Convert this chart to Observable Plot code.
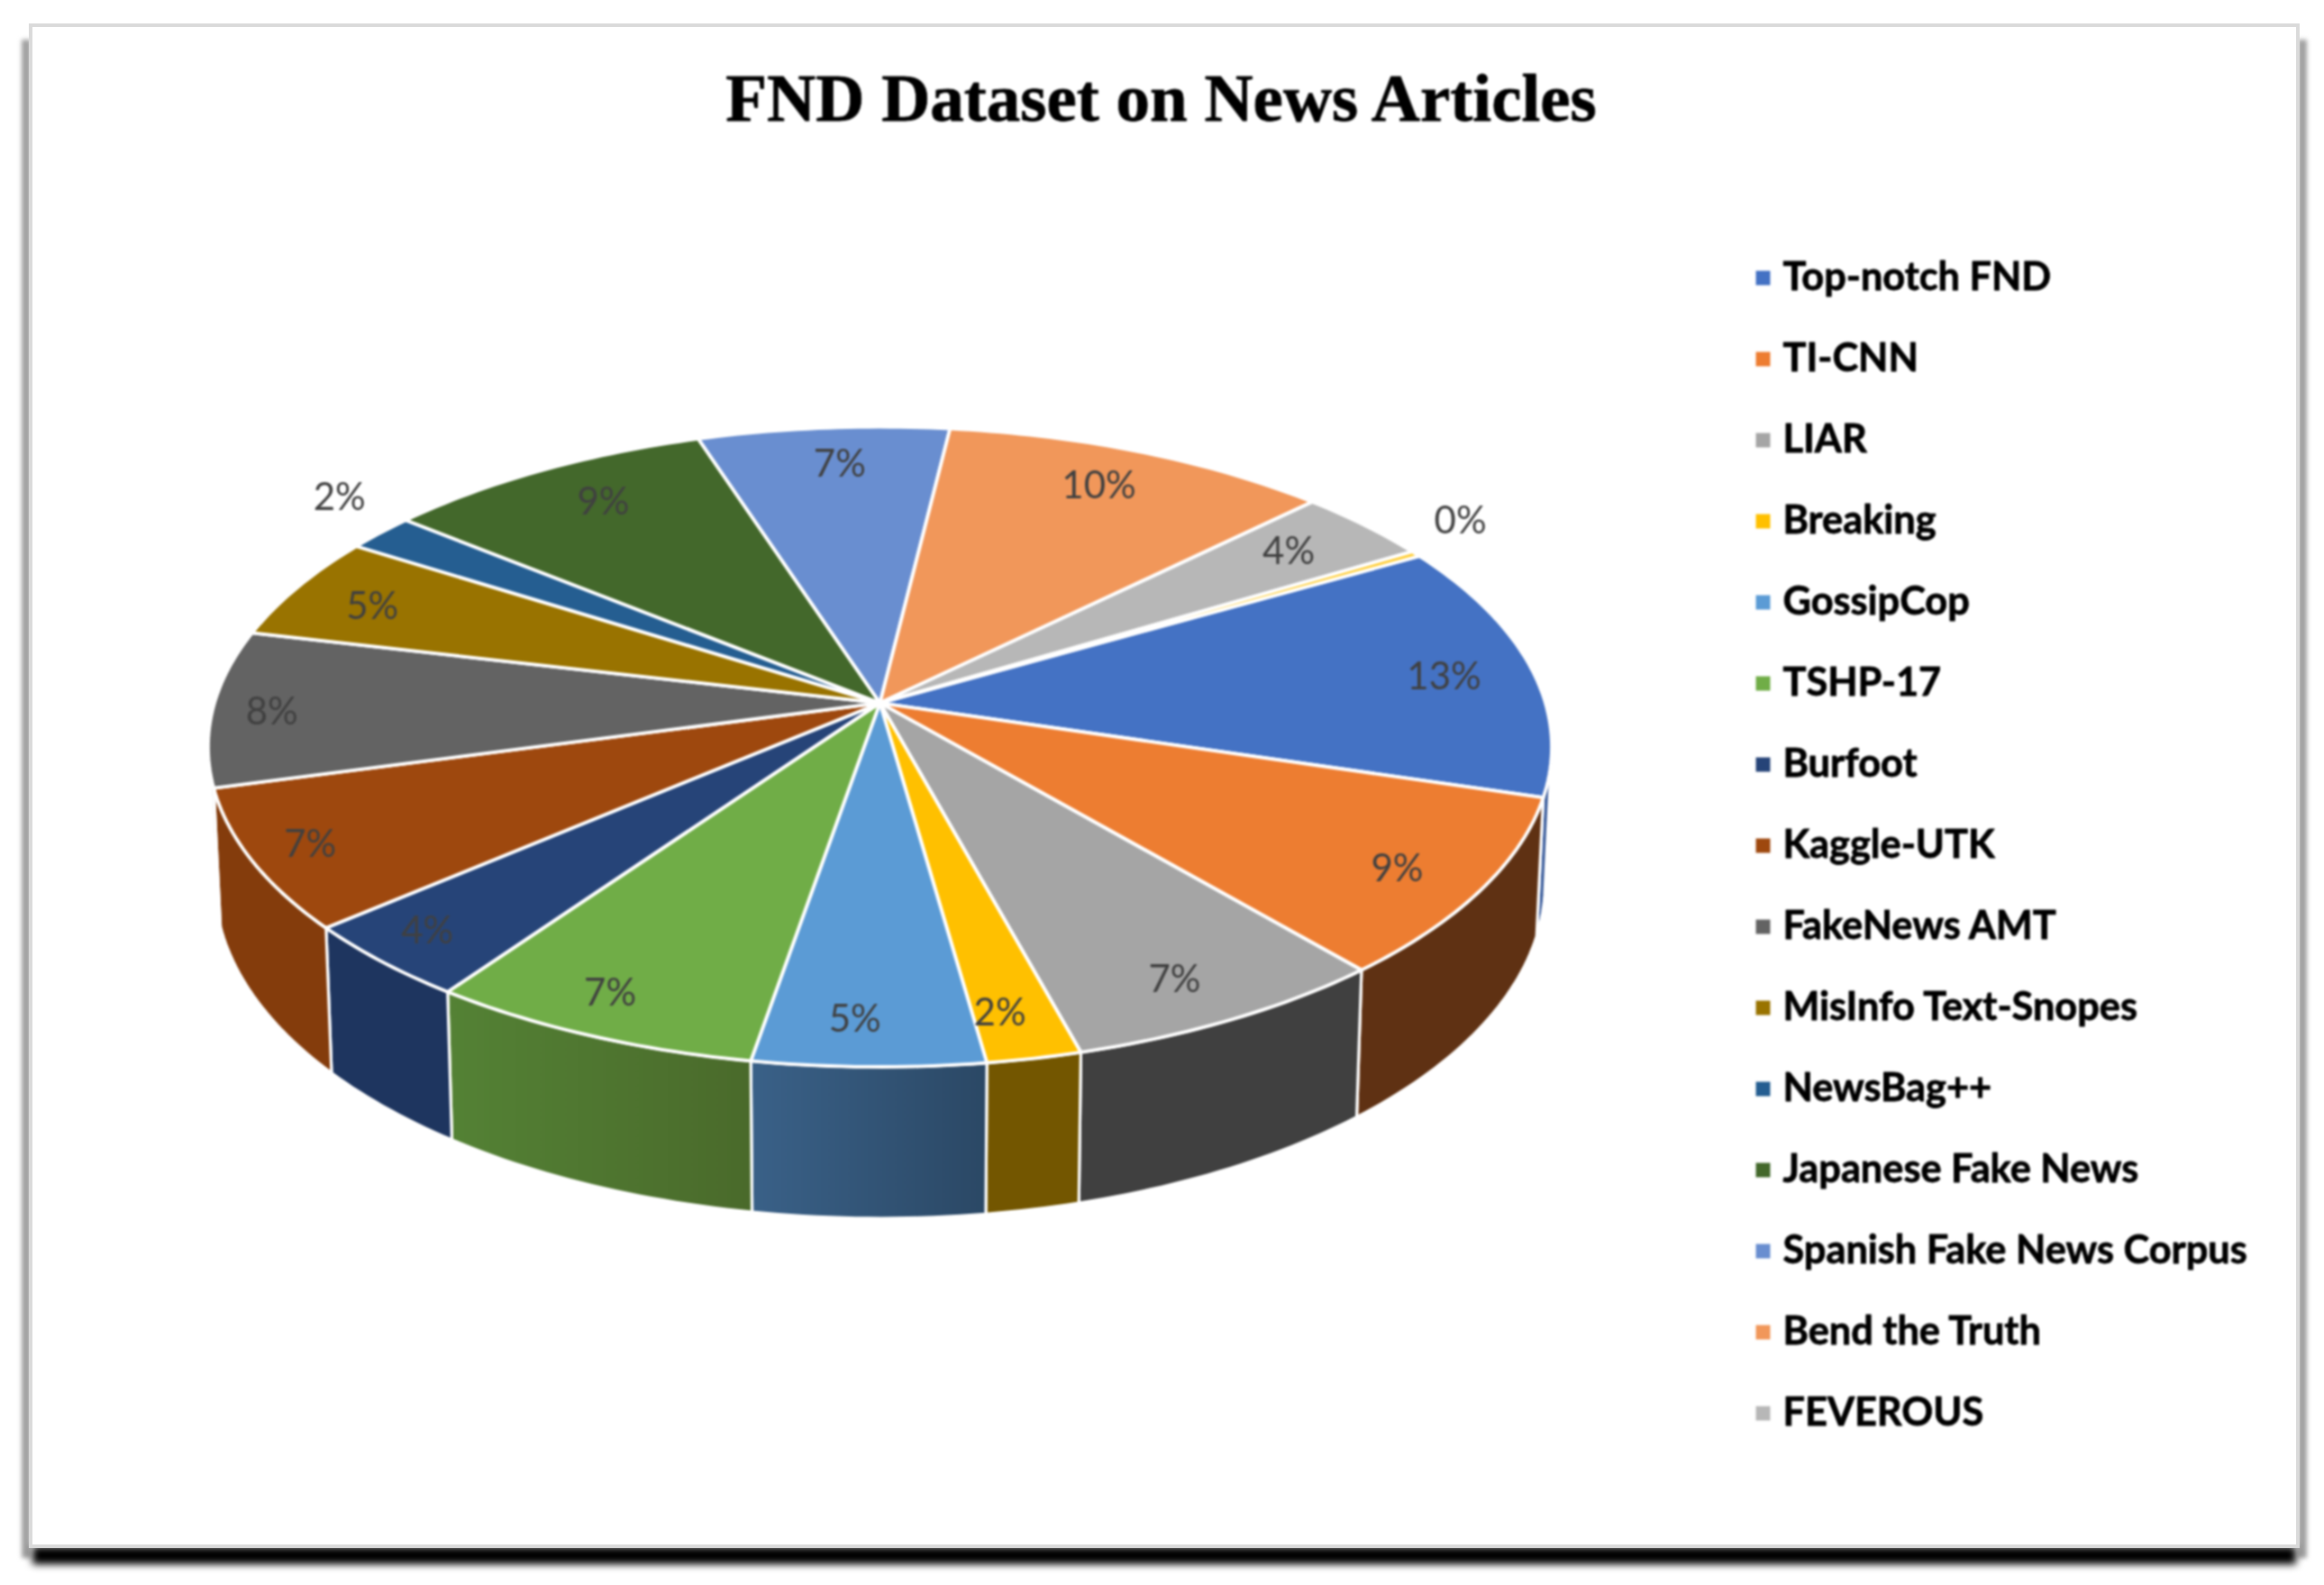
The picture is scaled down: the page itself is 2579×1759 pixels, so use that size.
<!DOCTYPE html>
<html>
<head>
<meta charset="utf-8">
<script src="https://cdn.jsdelivr.net/npm/d3@7"></script>
<script src="https://cdn.jsdelivr.net/npm/@observablehq/plot@0.6"></script>
<style>
html,body{margin:0;padding:0;background:#fff;overflow:hidden}
#stage{position:relative;width:2579px;height:1759px}
.s{position:absolute}
#stage svg{position:absolute;left:0;top:0;background:transparent;max-width:none;filter:blur(1px)}
</style>
</head>
<body>
<div id="stage">
  <div class="s" style="left:24px;top:44px;width:10px;height:1685px;background:#a0a0a0;filter:blur(2.5px)"></div>
  <div class="s" style="left:2550px;top:44px;width:10px;height:1685px;background:#a0a0a0;filter:blur(2.5px)"></div>
  <div class="s" style="left:36px;top:1716px;width:2512px;height:20px;background:#000;filter:blur(4px)"></div>
  <div class="s" style="left:32px;top:26px;width:2512px;height:1684px;background:#fff;border:4px solid #dadada"></div>
</div>
<script>
const chartTitle = "FND Dataset on News Articles";
const categories = ["Top-notch FND","TI-CNN","LIAR","Breaking","GossipCop","TSHP-17","Burfoot","Kaggle-UTK","FakeNews AMT","MisInfo Text-Snopes","NewsBag++","Japanese Fake News","Spanish Fake News Corpus","Bend the Truth","FEVEROUS","(unlisted)"];
const legendEntries = categories.slice(0, 15);
const shares = [13.0,9.1,7.0,2.0,4.9,7.1,3.9,7.1,7.9,5.3,1.9,9.1,6.9,10.7,3.75,0.3];
const shareLabels = ["13%","9%","7%","2%","5%","7%","4%","7%","8%","5%","2%","9%","7%","10%","4%","0%"];
const outsideLabels = ["NewsBag++","(unlisted)"];
const topColors = ["#4472C4","#ED7D31","#A5A5A5","#FFC000","#5B9BD5","#70AD47","#264478","#9E480E","#636363","#997300","#255E91","#43682B","#698ED0","#F1975A","#B7B7B7","#FFCD33"];
const wallColors = ["#3A5C9B","#5F3113","#404040","#735600","url(#wallGossip)","url(#wallTshp)","#1E355F","#843C0C","#3b3b3b","#5c4500","#163858","#2a3f1a","#3f5580","#915b36","#6e6e6e","#99791f"];

// Perspective of the tilted disc
const tilt = 0.137, startAngle = -30 * Math.PI / 180;
const cx = 976, cy = 779.7, A = 738.5, B = 348.5;
const flat = (u, v) => {
  const w = 1 - tilt * v;
  return {x: u / w, y: v / w};
};
const project = a => flat(Math.cos(a), Math.sin(a));
const dropped = a => {
  const p = project(a), v = Math.sin(a);
  return {x: p.x * 0.99, y: p.y + (148 + 20 * v) / B};
};
const pxX = px => (px - cx) / A, pxY = py => (py - cy) / B;

const arcs = d3.pie().sort(null).startAngle(startAngle).endAngle(startAngle + 2 * Math.PI)(shares);
const stepArc = (a0, a1) => {
  const n = Math.max(2, Math.ceil((a1 - a0) / (Math.PI / 180)));
  return d3.range(n + 1).map(i => a0 + (a1 - a0) * i / n);
};

const topPts = [], wallPts = [];
const visLo = 10 * Math.PI / 180, visHi = 168 * Math.PI / 180;
arcs.forEach((s, i) => {
  const name = categories[i];
  const pts = [{x: 0, y: 0}, ...stepArc(s.startAngle, s.endAngle).map(project), {x: 0, y: 0}];
  pts.forEach(p => topPts.push({...p, name, fill: topColors[i]}));
  const a0 = Math.max(s.startAngle, visLo), a1 = Math.min(s.endAngle, visHi);
  if (a1 > a0) {
    const angles = stepArc(a0, a1);
    const ring = [...angles.map(project), ...angles.slice().reverse().map(dropped)];
    ring.push(ring[0]);
    ring.forEach(p => wallPts.push({...p, name, fill: wallColors[i]}));
  }
});

const labels = arcs.map((s, i) => {
  const mid = (s.startAngle + s.endAngle) / 2;
  const c = Math.cos(mid), d = Math.sin(mid), back = Math.max(0, -d);
  const outside = outsideLabels.includes(categories[i]);
  const p = outside
    ? flat(1.10 * c, 1.14 * d - 0.05)
    : flat((0.89 - 0.09 * back) * c - 0.02 + 0.03 * back, 0.87 * d + 0.017);
  return {...p, text: shareLabels[i]};
});

const gradient = (id, c0, c1) => `<linearGradient id="${id}"><stop offset="0" stop-color="${c0}"/><stop offset="1" stop-color="${c1}"/></linearGradient>`;
const defsMark = () => {
  const g = document.createElementNS("http://www.w3.org/2000/svg", "g");
  g.innerHTML = `<defs>${gradient("wallGossip", "#3A6188", "#2B4865")}${gradient("wallTshp", "#548235", "#4A6A2B")}</defs>`;
  return g;
};

const legend = legendEntries.map((name, i) => ({name, color: topColors[i], y: pxY(308 + 90 * i)}));

const chart = Plot.plot({
  width: 2579, height: 1759, margin: 0,
  x: {domain: [-1, 1], range: [cx - A, cx + A], axis: null},
  y: {domain: [-1, 1], range: [cy - B, cy + B], axis: null},
  color: {type: "identity"},
  marks: [
    defsMark,
    Plot.line(wallPts, {x: "x", y: "y", z: "name", fill: "fill", stroke: "white", strokeWidth: 3.2}),
    Plot.line(topPts, {x: "x", y: "y", z: "name", fill: "fill", stroke: "white", strokeWidth: 3.8}),
    Plot.text(labels, {x: "x", y: "y", text: "text", fill: "#404040", fontSize: 42, fontFamily: "Lato", textAnchor: "middle"}),
    Plot.text([chartTitle], {x: pxX(1288), y: pxY(109), fill: "#000", stroke: "#000", strokeWidth: 0.8, fontSize: 75, fontWeight: "bold", fontFamily: "Liberation Serif"}),
    Plot.dot(legend, {x: pxX(1956), y: "y", symbol: "square", r: 9, fill: "color"}),
    Plot.text(legend, {x: pxX(1978), y: "y", text: "name", textAnchor: "start", fill: "#000", stroke: "#000", strokeWidth: 0.8, fontSize: 43.3, fontWeight: "bold", fontFamily: "Lato"})
  ]
});
document.getElementById("stage").appendChild(chart);
</script>
</body>
</html>
